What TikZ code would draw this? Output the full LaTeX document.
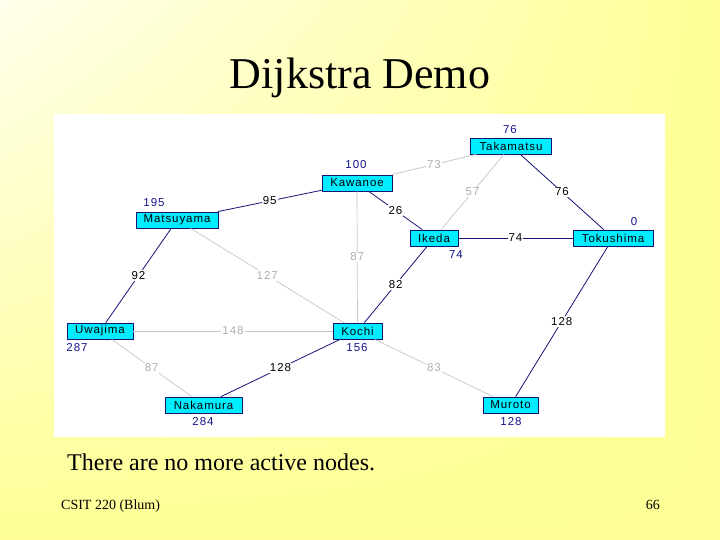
\documentclass[tikz,border=0pt]{standalone}
\usepackage{fontspec}
\usetikzlibrary{shadings}
\setmainfont{Liberation Serif}
\newfontfamily\uifont[LetterSpace=8]{Liberation Sans}
\definecolor{bgyellow}{RGB}{255,255,150}
\definecolor{bglight}{RGB}{255,255,236}
\definecolor{navyline}{RGB}{20,20,120}
\definecolor{grayline}{RGB}{198,198,198}
\definecolor{graytext}{RGB}{175,175,175}
\definecolor{boxcyan}{RGB}{0,236,255}
\definecolor{distblue}{RGB}{20,20,140}
\begin{document}
\begin{tikzpicture}[x=1pt,y=-1pt,
  ui/.style={font=\uifont\fontsize{11.5}{11.5}\selectfont},
  city/.style={ui, draw=navyline, fill=boxcyan, line width=0.8pt, minimum height=16pt, inner sep=0pt, text=black},
  dist/.style={ui, text=distblue, inner sep=0pt},
  tree/.style={draw=navyline, line width=0.8pt},
  other/.style={draw=grayline, line width=0.7pt},
  tlab/.style={ui, fill=white, inner sep=1pt, text=black},
  olab/.style={ui, fill=white, inner sep=1pt, text=graytext}]
\useasboundingbox (0,0) rectangle (720,540);
\shade[upper left=bglight, upper right=bgyellow, lower left=bgyellow, lower right=bgyellow] (0,0) rectangle (720,540);
\fill[white] (54,114) rectangle (665,437);

\node[font=\fontsize{44}{44}\selectfont] (title) at (360,78) {Dijkstra Demo};

% cities
\node[city, minimum width=81pt] (tak) at (511,146) {Takamatsu};
\node[city, minimum width=70pt] (kaw) at (357,183) {Kawanoe};
\node[city, minimum width=82pt] (mat) at (177,220) {Matsuyama};
\node[city, minimum width=48pt] (ike) at (434,238) {Ikeda};
\node[city, minimum width=80pt] (tok) at (613,238) {Tokushima};
\node[city, minimum width=66pt] (uwa) at (100,331) {Uwajima};
\node[city, minimum width=49pt] (koc) at (357.5,331) {Kochi};
\node[city, minimum width=77pt] (nak) at (203.5,405) {Nakamura};
\node[city, minimum width=55pt] (mur) at (510.5,405) {Muroto};

% distances
\node[dist] (dtak) at (510,130) {76};
\node[dist] (dkaw) at (356,165) {100};
\node[dist] (dmat) at (154,203) {195};
\node[dist] (dtok) at (634,222) {0};
\node[dist] (dike) at (456,255) {74};
\node[dist] (duwa) at (77,348) {287};
\node[dist] (dkoc) at (357,348) {156};
\node[dist] (dnak) at (203,422) {284};
\node[dist] (dmur) at (511,422) {128};

% edges
\draw[other] (kaw) -- node[olab]{73} (tak);
\draw[other] (tak) -- node[olab]{57} (ike);
\draw[other] (kaw) -- node[olab]{87} (koc);
\draw[other] (mat) -- node[olab]{127} (koc);
\draw[other] (uwa) -- node[olab]{148} (koc);
\draw[other] (uwa) -- node[olab]{87} (nak);
\draw[other] (koc) -- node[olab]{83} (mur);
\draw[tree] (mat) -- node[tlab]{95} (kaw);
\draw[tree] (tak) -- node[tlab]{76} (tok);
\draw[tree] (kaw) -- node[tlab]{26} (ike);
\draw[tree] (ike) -- node[tlab]{74} (tok);
\draw[tree] (mat) -- node[tlab]{92} (uwa);
\draw[tree] (ike) -- node[tlab]{82} (koc);
\draw[tree] (nak) -- node[tlab]{128} (koc);
\draw[tree] (tok) -- node[tlab]{128} (mur);

% text
\node[anchor=base west, font=\fontsize{24}{24}\selectfont, inner sep=0pt] (msg) at (67,470) {There are no more active nodes.};
\node[anchor=base west, font=\fontsize{14}{14}\selectfont, inner sep=0pt] (foot) at (61,509) {CSIT 220 (Blum)};
\node[anchor=base east, font=\fontsize{14}{14}\selectfont, inner sep=0pt] (page) at (660,509) {66};
\end{tikzpicture}
\end{document}
